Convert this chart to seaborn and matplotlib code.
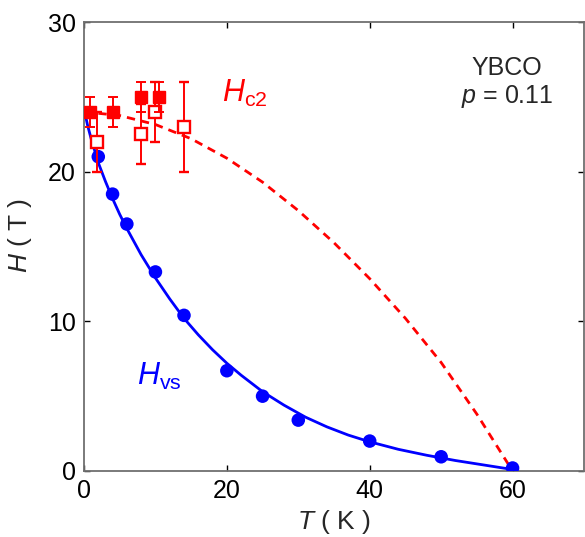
import numpy as np
import pandas as pd
import matplotlib
matplotlib.use('Agg')
import matplotlib.pyplot as plt
import seaborn as sns

# H_vs data points (blue)
T_vs = [2, 4, 6, 10, 14, 20, 25, 30, 40, 50, 60]
H_vs = [21.0, 18.5, 16.5, 13.3, 10.4, 6.7, 5.0, 3.4, 2.0, 0.95, 0.2]

# H_vs guide curve
T_vs_line = [0, 0.5, 1, 2, 3, 4, 5, 6, 8, 10, 12, 14, 16, 18, 20, 22, 25, 28, 31, 34, 37, 40, 44, 48, 52, 56, 60]
H_vs_line = [24.2, 23.1, 22.2, 20.6, 19.35, 18.2, 17.15, 16.2, 14.45, 12.9, 11.5, 10.2, 9.1, 8.1, 7.2,
             6.4, 5.3, 4.4, 3.6, 2.95, 2.4, 1.95, 1.45, 1.05, 0.7, 0.4, 0.1]

# H_c2 data (red), filled and open squares with error bars
T_c2_full = [0.8, 4, 8, 10.5]
H_c2_full = [24, 24, 25, 25]
err_c2_full = [1, 1, 1, 1]
T_c2_open = [1.8, 8, 10, 14]
H_c2_open = [22, 22.5, 24, 23]
err_c2_open = [2, 2, 2, 3]

# H_c2 dashed guide curve
T_c2_line = [0, 5, 10, 15, 20, 25, 30, 35, 40, 45, 50, 55, 60]
H_c2_line = [24.0, 23.75, 23.15, 22.2, 20.9, 19.3, 17.4, 15.25, 12.85, 10.2, 7.25, 3.8, 0.0]

sns.set_style('ticks')
plt.rcParams['font.family'] = ['Liberation Sans', 'DejaVu Sans']
plt.rcParams['mathtext.fontset'] = 'custom'
plt.rcParams['mathtext.it'] = 'Liberation Sans:italic'
plt.rcParams['mathtext.rm'] = 'Liberation Sans'

BLUE = '#0000ff'
RED = '#ff0000'

fig = plt.figure(figsize=(5.85, 5.37), dpi=100)
ax = fig.add_axes([84 / 585, 1 - 471 / 537, 500 / 585, 449 / 537])

df_vs_line = pd.DataFrame({'T': T_vs_line, 'H': H_vs_line})
sns.lineplot(data=df_vs_line, x='T', y='H', ax=ax, color=BLUE, lw=2.0, sort=False, zorder=2)

df_c2_line = pd.DataFrame({'T': T_c2_line, 'H': H_c2_line})
sns.lineplot(data=df_c2_line, x='T', y='H', ax=ax, color=RED, lw=2.0, sort=False, zorder=2)
ax.lines[-1].set_dashes((3.0, 2.2))

df_vs = pd.DataFrame({'T': T_vs, 'H': H_vs})
sns.scatterplot(data=df_vs, x='T', y='H', ax=ax, color=BLUE, s=95, edgecolor='none', zorder=3)

# red error bars
ax.errorbar(T_c2_open, H_c2_open, yerr=err_c2_open, fmt='s', color=RED, mfc='white', mec=RED,
            mew=1.7, ms=8.5, elinewidth=1.4, capsize=3.5, capthick=1.4, zorder=4)
ax.errorbar(T_c2_full, H_c2_full, yerr=err_c2_full, fmt='s', color=RED, mfc=RED, mec=RED,
            ms=9, elinewidth=1.4, capsize=3.5, capthick=1.4, zorder=5)

ax.set_xlim(0, 70)
ax.set_ylim(0, 30)
ax.set_xticks([0, 20, 40, 60])
ax.set_yticks([0, 10, 20, 30])
ax.tick_params(direction='in', length=4, width=1, colors='black', labelsize=18,
               top=True, right=True, pad=6)
for sp in ax.spines.values():
    sp.set_visible(True)
    sp.set_color('#707070')
    sp.set_linewidth(1.3)

ax.set_xlabel(r'$T$ ( K )', fontsize=19, labelpad=3)
ax.set_ylabel(r'$H$ ( T )', fontsize=19)
ax.yaxis.set_label_coords(-0.1, 0.525)

ax.text(19.3, 24.67, r'$H_{\rm c2}$', color=RED, fontsize=22, ha='left', va='baseline')
ax.text(7.4, 5.74, r'$H_{\rm vs}$', color=BLUE, fontsize=22, ha='left', va='baseline')
ax.text(59.2, 26.9, 'YBCO', fontsize=18, ha='center', va='center')
ax.text(59.2, 25.0, r'$p$ = 0.11', fontsize=18, ha='center', va='center')

fig.savefig('out.png', dpi=100)
